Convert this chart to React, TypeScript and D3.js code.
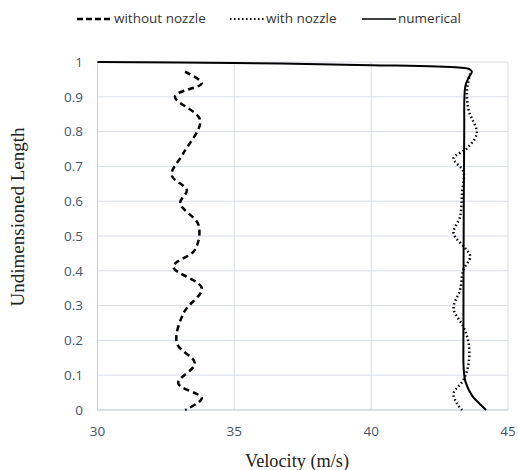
import React from "react";
import * as d3 from "d3";

const xTicks = [30, 35, 40, 45];
const yTicks = [0, 0.1, 0.2, 0.3, 0.4, 0.5, 0.6, 0.7, 0.8, 0.9, 1];

const withoutNozzleX = [33.2, 33.81, 32.83, 33.75, 33.14, 32.71, 33.26, 33.02, 33.69, 33.56, 32.77, 33.81, 33.14, 32.9, 33.56, 32.95, 33.81, 33.2];
const withoutNozzleY = [0.972, 0.939, 0.901, 0.833, 0.738, 0.675, 0.632, 0.594, 0.532, 0.46, 0.412, 0.35, 0.278, 0.192, 0.134, 0.077, 0.034, 0.0];

const withNozzleX = [43.62, 43.5, 43.56, 43.86, 43.5, 43.01, 43.37, 43.32, 43.25, 43.01, 43.44, 43.62, 43.37, 43.25, 43.01, 43.37, 43.56, 43.56, 43.37, 43.01, 43.13, 43.32];
const withNozzleY = [0.967, 0.92, 0.862, 0.795, 0.752, 0.723, 0.685, 0.623, 0.556, 0.508, 0.465, 0.441, 0.402, 0.345, 0.292, 0.239, 0.192, 0.134, 0.086, 0.048, 0.019, 0.0];

const numericalX = [30, 35, 40, 43.2, 43.6, 43.68, 43.56, 43.44, 43.4, 43.38, 43.37, 43.38, 43.45, 43.7, 44.0, 44.2];
const numericalY = [1.0, 0.997, 0.991, 0.984, 0.979, 0.972, 0.955, 0.93, 0.8, 0.5, 0.2, 0.12, 0.08, 0.04, 0.015, 0.0];

const W = 518;
const H = 470;
const left = 97.5;
const right = 508;
const top = 62;
const bottom = 410;

export default function App() {
  const x = d3.scaleLinear().domain([30, 45]).range([left, right]);
  const y = d3.scaleLinear().domain([0, 1]).range([bottom, top]);
  const line = d3
    .line<[number, number]>()
    .x((d) => x(d[0]))
    .y((d) => y(d[1]))
    .curve(d3.curveCatmullRom.alpha(0.5));
  const zip = (a: number[], b: number[]) => a.map((v, i) => [v, b[i]] as [number, number]);
  const tickColor = "#44546A";
  const gridColor = "#D9DEE6";
  const labelFont = "Open Sans, Liberation Sans, sans-serif";
  const serif = "Liberation Serif, Times New Roman, serif";

  return (
    <svg width={W} height={H} style={{ position: "absolute", left: 0, top: 0, background: "#fff" }}>
      <rect width={W} height={H} fill="#fff" />
      {yTicks.map((t) => (
        <line key={"gy" + t} x1={left} x2={right} y1={y(t)} y2={y(t)} stroke={gridColor} strokeWidth={1} />
      ))}
      {xTicks.map((t) => (
        <line key={"gx" + t} x1={x(t)} x2={x(t)} y1={top} y2={bottom} stroke={gridColor} strokeWidth={1} />
      ))}
      <line x1={left} x2={right} y1={bottom} y2={bottom} stroke="#C8D0DA" strokeWidth={1} />
      <line x1={left} x2={left} y1={top} y2={bottom} stroke="#C8D0DA" strokeWidth={1} />
      {yTicks.map((t) => (
        <text key={"ty" + t} x={83} y={y(t)} dy="0.35em" textAnchor="end" fontSize={13.5} fill={tickColor} fontFamily={labelFont}>
          {d3.format("~g")(t)}
        </text>
      ))}
      {xTicks.map((t) => (
        <text key={"tx" + t} x={x(t)} y={436} textAnchor="middle" fontSize={13.5} fill={tickColor} fontFamily={labelFont}>
          {t}
        </text>
      ))}
      <path d={line(zip(withoutNozzleX, withoutNozzleY)) || ""} fill="none" stroke="#000" strokeWidth={2.5} strokeDasharray="6 4" />
      <path d={line(zip(withNozzleX, withNozzleY)) || ""} fill="none" stroke="#000" strokeWidth={2.5} strokeDasharray="1.5 2.5" strokeLinecap="butt" />
      <path d={line(zip(numericalX, numericalY)) || ""} fill="none" stroke="#000" strokeWidth={2} />
      <text x={24} y={217} transform="rotate(-90 24 217)" textAnchor="middle" fontSize={19} fontFamily={serif} fill="#222">
        Undimensioned Length
      </text>
      <text x={297} y={467} textAnchor="middle" fontSize={18.3} fontFamily={serif} fill="#222">
        Velocity (m/s)
      </text>
      <g fontSize={13.5} fontFamily={labelFont} fill="#333">
        <line x1={77} x2={112} y1={19} y2={19} stroke="#000" strokeWidth={2.5} strokeDasharray="6 3" />
        <text x={114} y={23}>without nozzle</text>
        <line x1={230} x2={265} y1={19} y2={19} stroke="#000" strokeWidth={2} strokeDasharray="1.5 2.5" />
        <text x={266} y={23}>with nozzle</text>
        <line x1={362} x2={396} y1={19} y2={19} stroke="#000" strokeWidth={1.5} />
        <text x={398} y={23}>numerical</text>
      </g>
    </svg>
  );
}
